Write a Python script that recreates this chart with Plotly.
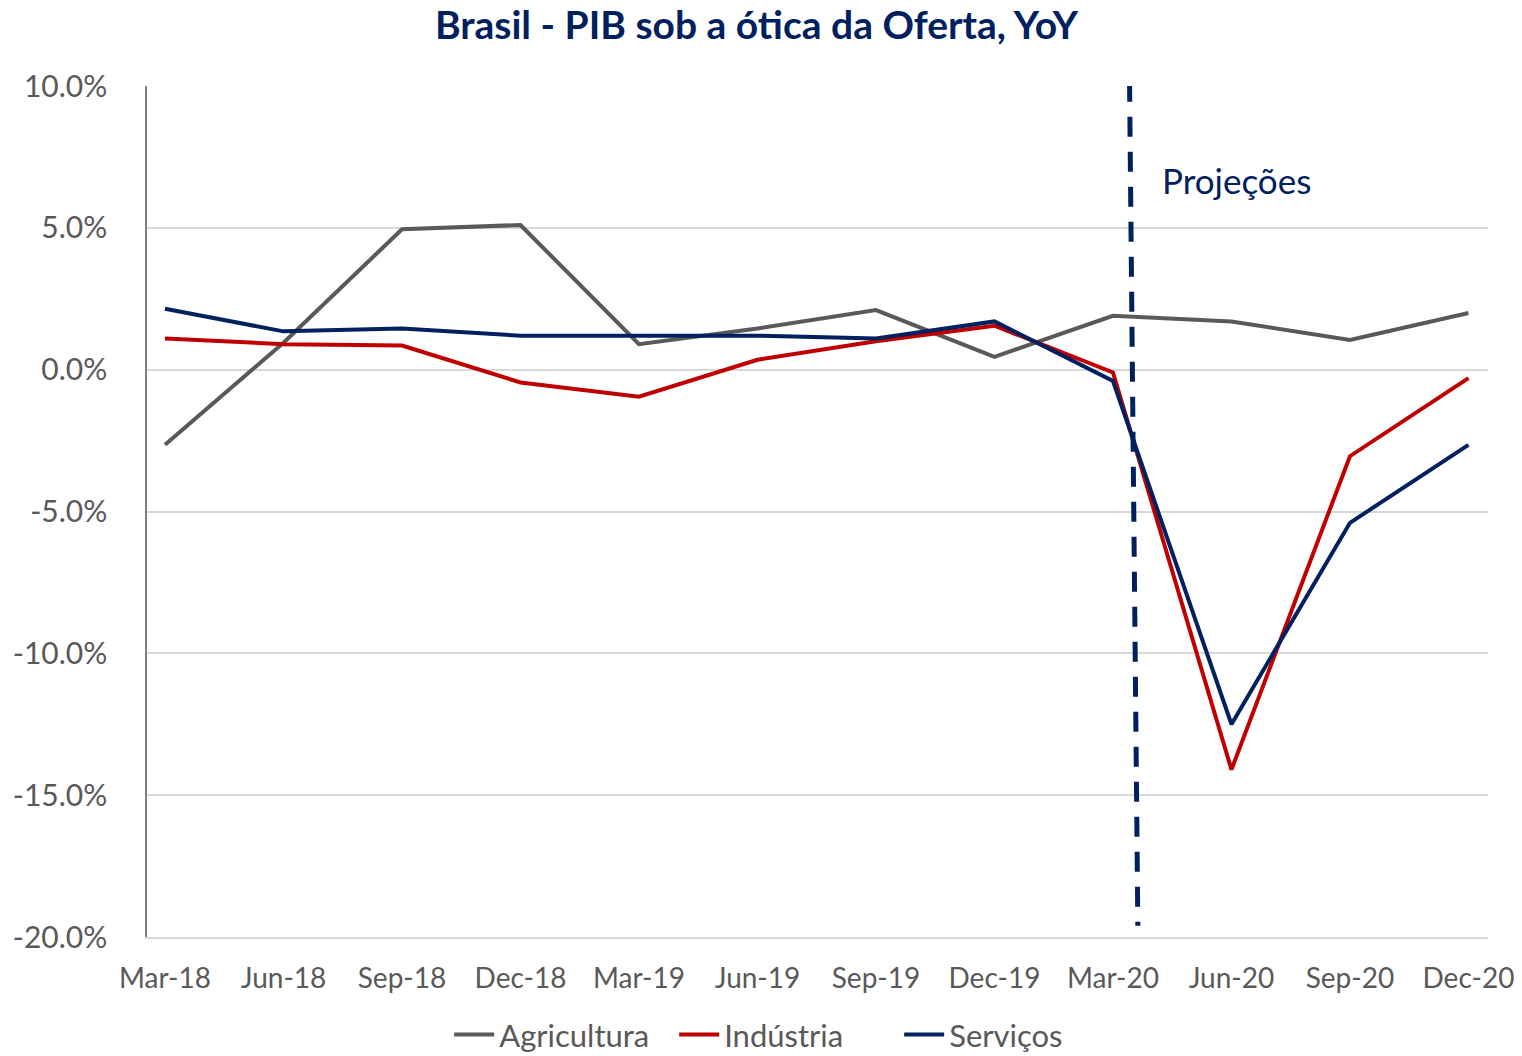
import plotly.graph_objects as go

NAVY = "#002060"; RED = "#c00000"; GRAY = "#595959"
TXT = "#595959"; GRID = "#d9d9d9"
FONT = "Lato, 'Open Sans', sans-serif"

quarters = ["Mar-18", "Jun-18", "Sep-18", "Dec-18", "Mar-19", "Jun-19",
            "Sep-19", "Dec-19", "Mar-20", "Jun-20", "Sep-20", "Dec-20"]
agricultura = [-2.65, 0.95, 4.95, 5.1, 0.9, 1.45, 2.1, 0.45, 1.9, 1.7, 1.05, 2.0]
industria = [1.1, 0.9, 0.85, -0.45, -0.95, 0.35, 1.0, 1.55, -0.1, -14.1, -3.05, -0.3]
servicos = [2.15, 1.35, 1.45, 1.2, 1.2, 1.2, 1.1, 1.7, -0.4, -12.5, -5.4, -2.65]

y_ticks = [-20, -15, -10, -5, 0, 5, 10]
y_labels = ["-20.0%", "-15.0%", "-10.0%", "-5.0%", "0.0%", "5.0%", "10.0%"]

# linha tracejada das projeções (posição em índice de categoria)
PROJ_X0, PROJ_X1 = 8.14, 8.21
PROJ_Y0, PROJ_Y1 = 10.15, -19.6

fig = go.Figure()
for name, col, vals in [("Agricultura", GRAY, agricultura),
                        ("Indústria", RED, industria),
                        ("Serviços", NAVY, servicos)]:
    fig.add_trace(go.Scatter(x=quarters, y=vals, mode="lines", name=name,
                             line=dict(color=col, width=4)))

fig.add_shape(type="line", xref="x", yref="y", x0=PROJ_X0, x1=PROJ_X1,
              y0=PROJ_Y0, y1=PROJ_Y1, line=dict(color=NAVY, width=5, dash="20px,15px"))
fig.add_annotation(x=8.4, y=6.7, xref="x", yref="y", text="Projeções", showarrow=False,
                   xanchor="left", font=dict(family=FONT, size=35, color=NAVY))

fig.update_layout(
    width=1522, height=1056,
    margin=dict(l=147, r=34, t=86, b=119),
    paper_bgcolor="white", plot_bgcolor="white",
    font=dict(family=FONT, color=TXT, size=22),
    title=dict(text="<b>Brasil - PIB sob a ótica da Oferta, YoY</b>", x=0.497, xanchor="center",
               yref="container", y=0.976, yanchor="middle", font=dict(family=FONT, size=39, color=NAVY)),
    showlegend=True,
    legend=dict(orientation="h", x=0.477, xanchor="center", yref="container", y=0.02,
                yanchor="middle", font=dict(size=31, color=TXT), itemwidth=40,
                entrywidth=170, entrywidthmode="pixels", traceorder="normal"),
)
fig.update_xaxes(type="category", range=[-0.152, 11.165], showgrid=False, automargin=False,
                 showline=True, linecolor=GRID, linewidth=1.5, ticks="",
                 tickfont=dict(size=28, color=TXT), ticklabelstandoff=16)
fig.update_yaxes(range=[-20, 10], tickvals=y_ticks, ticktext=y_labels, automargin=False,
                 showgrid=True, gridcolor=GRID, gridwidth=1.5, zeroline=False,
                 showline=True, linecolor="#7f7f7f", linewidth=1.5,
                 tickfont=dict(size=30, color=TXT), ticklabelstandoff=32)

# sem a margem padrão de 8px do body, a figura ocupa a janela inteira
fig.write_html("out.html", config={"displayModeBar": False},
               post_script="document.body.style.margin = '0';")
